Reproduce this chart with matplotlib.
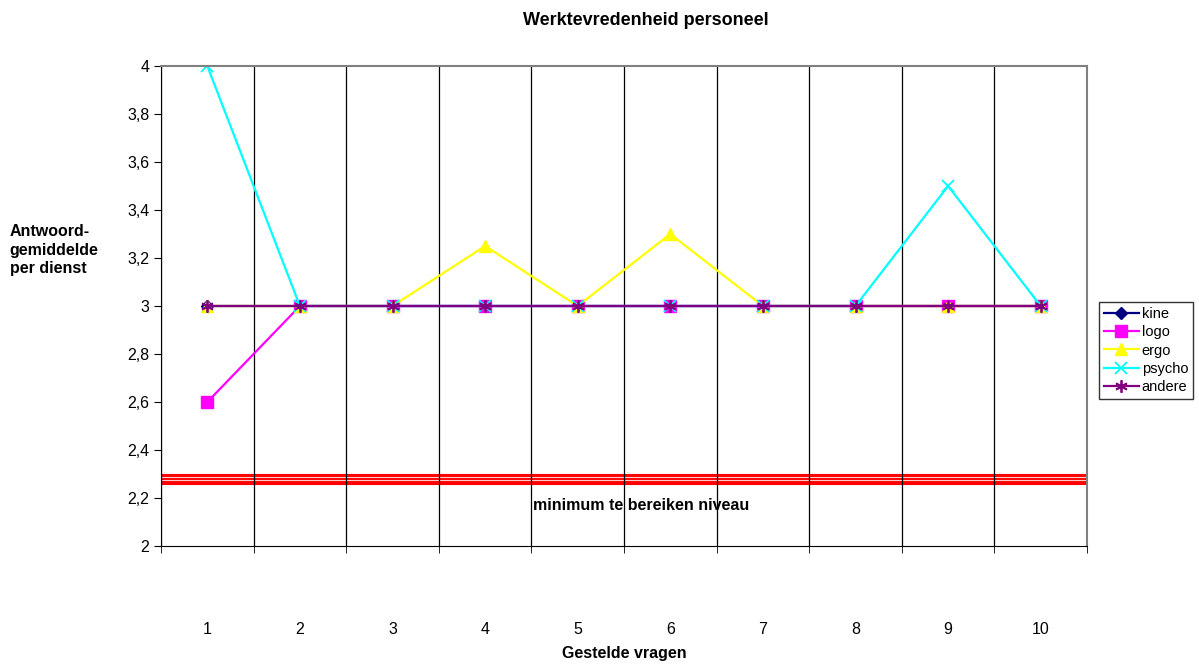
import matplotlib.pyplot as plt
from matplotlib.ticker import FixedLocator, FuncFormatter

plt.rcParams['font.family'] = ['Liberation Sans', 'DejaVu Sans']
plt.rcParams['font.size'] = 11.5

# gegevens
vragen = [1, 2, 3, 4, 5, 6, 7, 8, 9, 10]
kine = [3, 3, 3, 3, 3, 3, 3, 3, 3, 3]
logo = [2.6, 3, 3, 3, 3, 3, 3, 3, 3, 3]
ergo = [3, 3, 3, 3.25, 3, 3.3, 3, 3, 3, 3]
psycho = [4, 3, 3, 3, 3, 3, 3, 3, 3.5, 3]
andere = [3, 3, 3, 3, 3, 3, 3, 3, 3, 3]
minimum = 2.28

fig = plt.figure(figsize=(11.99, 6.64), dpi=100)
ax = fig.add_axes([0.1343, 0.1777, 0.7723, 0.7229])

ax.plot(vragen, kine, color='#000080', marker='D', ms=6, lw=1.6, label='kine')
ax.plot(vragen, logo, color='#ff00ff', marker='s', ms=8, lw=1.6, label='logo')
ax.plot(vragen, ergo, color='#ffff00', marker='^', ms=8, lw=1.6, label='ergo')
ax.plot(vragen, psycho, color='#00ffff', marker='x', ms=9, mew=1.3, lw=1.6, label='psycho')
ax.plot(vragen, andere, color='#800080', marker=(6, 2, 0), ms=9, mew=1.3, lw=1.6, label='andere')

# minimum niveau (dubbele rode lijn)
ax.axhline(minimum, color='red', lw=8, zorder=1)
ax.axhline(minimum - 0.007, color='white', lw=0.8, alpha=0.8, zorder=1)
ax.axhline(minimum + 0.007, color='white', lw=0.8, alpha=0.8, zorder=1)
ax.text(5.68, 2.17, 'minimum te bereiken niveau', ha='center', va='center',
        fontweight='bold')

ax.set_xlim(0.5, 10.5)
ax.set_ylim(2, 4)
ax.set_yticks([2, 2.2, 2.4, 2.6, 2.8, 3, 3.2, 3.4, 3.6, 3.8, 4])
ax.yaxis.set_major_formatter(FuncFormatter(lambda v, p: f'{v:g}'.replace('.', ',')))
ax.set_xticks(vragen)
ax.xaxis.set_minor_locator(FixedLocator([i + 0.5 for i in range(0, 11)]))
ax.tick_params(axis='x', which='major', length=0, pad=55)
ax.tick_params(axis='x', which='minor', length=5, direction='out')
ax.tick_params(axis='y', length=5, direction='out')
ax.grid(True, axis='x', which='minor', color='black', lw=0.9)

for s in ['top', 'right']:
    ax.spines[s].set_color('gray')
    ax.spines[s].set_linewidth(1.5)

ax.set_xlabel('Gestelde vragen', fontweight='bold', labelpad=6)
fig.text(0.008, 0.623, 'Antwoord-\ngemiddelde\nper dienst', ha='left', va='center',
         fontweight='bold', linespacing=1.3)
fig.suptitle('Werktevredenheid personeel', fontweight='bold', fontsize=13,
             x=0.539, y=0.982)

leg = fig.legend(loc='center left', bbox_to_anchor=(0.917, 0.472),
                 bbox_transform=fig.transFigure, frameon=True, fancybox=False,
                 edgecolor='black', fontsize=10.5, handlelength=2.4, borderpad=0.3,
                 labelspacing=0.3, handletextpad=0.2, borderaxespad=0)
leg.get_frame().set_linewidth(1)

fig.savefig('out.png', dpi=100)
